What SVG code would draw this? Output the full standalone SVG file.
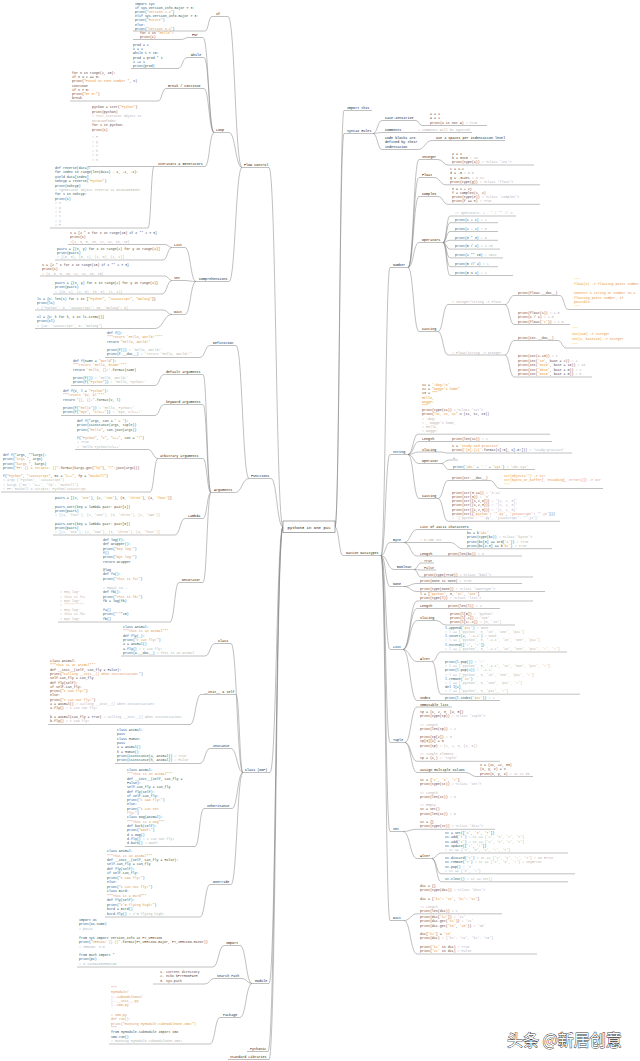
<svg xmlns="http://www.w3.org/2000/svg" width="640" height="1061" viewBox="0 0 640 1061" xml:space="preserve">
<style>
text{font-family:"Liberation Mono","DejaVu Sans Mono",monospace}
.k{font-size:3.3px;fill:#4a4a4a}
.c{fill:#b3b3b3}
.s{fill:#e3963e}
.r{fill:#c0392b}
.lb{font-size:3.4px;fill:#1a1a1a}
#connectors path{fill:none;stroke:#808080;stroke-width:0.5}
.wm{font-family:"Noto Sans CJK SC",sans-serif;font-size:16px;fill:#fff;stroke:#3a3a3a;stroke-width:0.9;paint-order:stroke}
</style>
<rect width="640" height="1061" fill="#fff"/>
<g id="connectors">
<path d="M242,167.5 H269 C276,167.5 276,527 283,527"/>
<path d="M249,478.5 H271 C277,478.5 277,527 283,527"/>
<path d="M243,772.5 H270 C276.5,772.5 276.5,527 283,527"/>
<path d="M252,983.5 H269 C276,983.5 276,527 283,527"/>
<path d="M247,1051.5 H268 C275.5,1051.5 275.5,527 283,527"/>
<path d="M228,1059.5 H269 C276,1059.5 276,527 283,527"/>
<path d="M212,16.5 H228 C235,16.5 235,167.5 242,167.5"/>
<path d="M133,31 H205 C208.5,31 208.5,16.5 212,16.5"/>
<path d="M214,132.5 H229 C235.5,132.5 235.5,167.5 242,167.5"/>
<path d="M189,37.5 H203 C208.5,37.5 208.5,132.5 214,132.5"/>
<path d="M133,39.5 H181 C185,39.5 185,37.5 189,37.5"/>
<path d="M187,57.5 H204 C209,57.5 209,132.5 214,132.5"/>
<path d="M131,68.5 H178 C182.5,68.5 182.5,57.5 187,57.5"/>
<path d="M166,88.5 H204 C209,88.5 209,132.5 214,132.5"/>
<path d="M70,101 H158 C162,101 162,88.5 166,88.5"/>
<path d="M88,166.5 H205 C209.5,166.5 209.5,132.5 214,132.5"/>
<path d="M50,228 H148 C151,228 151,166.5 154,166.5"/>
<path d="M196,281.5 H229 C235.5,281.5 235.5,167.5 242,167.5"/>
<path d="M172,247.5 H185 C190.5,247.5 190.5,281.5 196,281.5"/>
<path d="M68,244.5 H165 C168.5,244.5 168.5,247.5 172,247.5"/>
<path d="M55,260 H163 C167.5,260 167.5,247.5 172,247.5"/>
<path d="M172,280.5 H184 C190,280.5 190,281.5 196,281.5"/>
<path d="M40,276 H165 C168.5,276 168.5,280.5 172,280.5"/>
<path d="M53,294 H162 C167,294 167,280.5 172,280.5"/>
<path d="M172,314.5 H185 C190.5,314.5 190.5,281.5 196,281.5"/>
<path d="M35,310 H163 C167.5,310 167.5,314.5 172,314.5"/>
<path d="M35,328.5 H155 C163.5,328.5 163.5,314.5 172,314.5"/>
<path d="M210,345.5 H236 C242.5,345.5 242.5,478.5 249,478.5"/>
<path d="M105,357.5 H200 C205,357.5 205,345.5 210,345.5"/>
<path d="M211,492.5 H235 C242,492.5 242,478.5 249,478.5"/>
<path d="M164,374.5 H203 C207,374.5 207,492.5 211,492.5"/>
<path d="M71,385.5 H155 C159.5,385.5 159.5,374.5 164,374.5"/>
<path d="M164,404.5 H203 C207,404.5 207,492.5 211,492.5"/>
<path d="M61,415.5 H155 C159.5,415.5 159.5,404.5 164,404.5"/>
<path d="M158,458.5 H203 C207,458.5 207,492.5 211,492.5"/>
<path d="M75,449.5 H148 C153,449.5 153,458.5 158,458.5"/>
<path d="M1,492 H150 C154,492 154,458.5 158,458.5"/>
<path d="M185,518.5 H203 C207,518.5 207,492.5 211,492.5"/>
<path d="M53,535 H175 C180,535 180,518.5 185,518.5"/>
<path d="M179,582.5 H203 C207,582.5 207,492.5 211,492.5"/>
<path d="M58,622 H170 C174.5,622 174.5,582.5 179,582.5"/>
<path d="M215,643.5 H231 C237,643.5 237,772.5 243,772.5"/>
<path d="M121,656 H205 C210,656 210,643.5 215,643.5"/>
<path d="M201,694.5 H236 C239.5,694.5 239.5,772.5 243,772.5"/>
<path d="M48,724.5 H190 C195.5,724.5 195.5,694.5 201,694.5"/>
<path d="M210,748.5 H231 C237,748.5 237,772.5 243,772.5"/>
<path d="M115,763.5 H200 C205,763.5 205,748.5 210,748.5"/>
<path d="M204,808.5 H232 C237.5,808.5 237.5,772.5 243,772.5"/>
<path d="M125,846.5 H195 C199.5,846.5 199.5,808.5 204,808.5"/>
<path d="M210,884.5 H231 C237,884.5 237,772.5 243,772.5"/>
<path d="M105,917 H200 C205,917 205,884.5 210,884.5"/>
<path d="M224,945.5 H240 C246,945.5 246,983.5 252,983.5"/>
<path d="M77,967 H213 C218.5,967 218.5,945.5 224,945.5"/>
<path d="M214,978.5 H242 C247,978.5 247,983.5 252,983.5"/>
<path d="M153,984 H205 C209.5,984 209.5,978.5 214,978.5"/>
<path d="M220,1017.5 H240 C246,1017.5 246,983.5 252,983.5"/>
<path d="M109,1044 H210 C215,1044 215,1017.5 220,1017.5"/>
<path d="M335,527 C339.5,527 339.5,110.5 344,110.5 H372"/>
<path d="M335,527 C339.5,527 339.5,133.5 344,133.5 H373"/>
<path d="M373,133.5 C377.5,133.5 377.5,120.5 382,120.5 H416 C419,120.5 419,125.5 422,125.5 H487"/>
<path d="M373,133.5 C377.5,133.5 377.5,132.5 382,132.5 H472"/>
<path d="M373,133.5 C377.5,133.5 377.5,149.5 382,149.5 H418 C425,149.5 425,140.5 432,140.5 H505"/>
<path d="M335,527 C339,527 339,555.5 343,555.5 H381"/>
<path d="M381,555.5 C385.5,555.5 385.5,267.5 390,267.5 H408"/>
<path d="M408,267.5 C413.5,267.5 413.5,159.5 419,159.5 H438 C443,159.5 443,165 448,165 H534"/>
<path d="M408,267.5 C413.5,267.5 413.5,177.5 419,177.5 H434 C440,177.5 440,184.8 446,184.8 H540"/>
<path d="M408,267.5 C413.5,267.5 413.5,196.5 419,196.5 H438 C443,196.5 443,204.3 448,204.3 H540"/>
<path d="M408,267.5 C413.5,267.5 413.5,242.5 419,242.5 H443"/>
<path d="M443,242.5 C446.5,242.5 446.5,216 450,216 H516"/>
<path d="M443,242.5 C446.5,242.5 446.5,222.7 450,222.7 H498"/>
<path d="M443,242.5 C446.5,242.5 446.5,231.5 450,231.5 H498"/>
<path d="M443,242.5 C446.5,242.5 446.5,240.3 450,240.3 H498"/>
<path d="M443,242.5 C446.5,242.5 446.5,249.1 450,249.1 H500"/>
<path d="M443,242.5 C446.5,242.5 446.5,257.9 450,257.9 H503"/>
<path d="M443,242.5 C446.5,242.5 446.5,266.7 450,266.7 H498"/>
<path d="M443,242.5 C446.5,242.5 446.5,275.5 450,275.5 H513"/>
<path d="M408,267.5 C413.5,267.5 413.5,331.5 419,331.5 H438"/>
<path d="M438,331.5 C443,331.5 443,304.5 448,304.5 H505"/>
<path d="M505,304.5 C509.5,304.5 509.5,295.5 514,295.5 H560 C564,295.5 564,309.5 568,309.5 H640"/>
<path d="M505,304.5 C509.5,304.5 509.5,324.5 514,324.5 H570"/>
<path d="M438,331.5 C443,331.5 443,355 448,355 H505"/>
<path d="M505,355 C509.5,355 509.5,340.5 514,340.5 H558 C562,340.5 562,348 566,348 H640"/>
<path d="M505,355 C509.5,355 509.5,377 514,377 H592"/>
<path d="M381,555.5 C385.5,555.5 385.5,454.5 390,454.5 H408"/>
<path d="M408,454.5 C413,454.5 413,434.2 418,434.2 H550"/>
<path d="M408,454.5 C413.5,454.5 413.5,441.5 419,441.5 H552"/>
<path d="M408,454.5 C413.5,454.5 413.5,452 419,452 H440 C444,452 444,453 448,453 H572"/>
<path d="M408,454.5 C413.5,454.5 413.5,463.5 419,463.5 H441"/>
<path d="M441,463.5 C445,463.5 445,460 449,460 H458"/>
<path d="M441,463.5 C445,463.5 445,469.5 449,469.5 H535"/>
<path d="M408,454.5 C413.5,454.5 413.5,498.5 419,498.5 H438"/>
<path d="M438,498.5 C443,498.5 443,480.5 448,480.5 H490 C495,480.5 495,488.5 500,488.5 H603"/>
<path d="M438,498.5 C443,498.5 443,521.3 448,521.3 H560"/>
<path d="M381,555.5 C385.5,555.5 385.5,542.5 390,542.5 H404"/>
<path d="M404,542.5 C410.5,542.5 410.5,529.5 417,529.5 H472"/>
<path d="M404,542.5 H450 C456.5,542.5 456.5,548.7 463,548.7 H552"/>
<path d="M404,542.5 C410.5,542.5 410.5,556 417,556 H522"/>
<path d="M381,555.5 C387.5,555.5 387.5,569.5 394,569.5 H414"/>
<path d="M414,569.5 C417.5,569.5 417.5,563 421,563 H434"/>
<path d="M414,569.5 C417.5,569.5 417.5,570 421,570 H436"/>
<path d="M414,569.5 C417.5,569.5 417.5,577 421,577 H533"/>
<path d="M381,555.5 C385.5,555.5 385.5,586.5 390,586.5 H404"/>
<path d="M404,586.5 C410.5,586.5 410.5,583.5 417,583.5 H522"/>
<path d="M404,586.5 C410.5,586.5 410.5,591.5 417,591.5 H545"/>
<path d="M381,555.5 C385.5,555.5 385.5,649.5 390,649.5 H403"/>
<path d="M403,649.5 C410,649.5 410,601 417,601 H533"/>
<path d="M403,649.5 C410,649.5 410,608.5 417,608.5 H500"/>
<path d="M403,649.5 C410,649.5 410,620.5 417,620.5 H436 C441,620.5 441,625 446,625 H515"/>
<path d="M403,649.5 C410,649.5 410,661.5 417,661.5 H432"/>
<path d="M432,661.5 C436.5,661.5 436.5,652 441,652 H567"/>
<path d="M432,661.5 C436.5,661.5 436.5,694.2 441,694.2 H580"/>
<path d="M403,649.5 C410,649.5 410,700.5 417,700.5 H500"/>
<path d="M381,555.5 C385.5,555.5 385.5,742.5 390,742.5 H405"/>
<path d="M405,742.5 C411,742.5 411,707 417,707 H452"/>
<path d="M405,742.5 C411,742.5 411,761.3 417,761.3 H500"/>
<path d="M405,742.5 C411,742.5 411,772.5 417,772.5 H466 C471,772.5 471,776.5 476,776.5 H533"/>
<path d="M381,555.5 C385.5,555.5 385.5,831.5 390,831.5 H403"/>
<path d="M403,831.5 C410,831.5 410,829.3 417,829.3 H495"/>
<path d="M403,831.5 C410,831.5 410,858.5 417,858.5 H432"/>
<path d="M432,858.5 C436.5,858.5 436.5,853 441,853 H568"/>
<path d="M432,858.5 C436.5,858.5 436.5,873.8 441,873.8 H575"/>
<path d="M432,858.5 C436.5,858.5 436.5,881.8 441,881.8 H568"/>
<path d="M381,555.5 C385.5,555.5 385.5,920.5 390,920.5 H404"/>
<path d="M404,920.5 C410.5,920.5 410.5,913.8 417,913.8 H502"/>
<path d="M404,920.5 C410.5,920.5 410.5,954 417,954 H537"/>
</g>

<g id="n-root"><rect x="283" y="521" width="52" height="11.5" fill="#fff" stroke="#555" stroke-width="0.5"/><text x="309" y="528.5" text-anchor="middle" style="font-size:4px;fill:#111">python3 in one pic</text></g>

<g id="n-flow-control"><text class="lb" x="244" y="166">Flow Control</text></g>
<g id="n-if"><text class="lb" x="216" y="15">If</text><g class="k">
<text x="135" y="4.5">import sys</text>
<text x="135" y="8.7">if sys.version_info.major &lt; 3:</text>
<text x="135" y="12.9">    print(<tspan class="s">"Version 2.X"</tspan>)</text>
<text x="135" y="17.1">elif sys.version_info.major &gt; 3:</text>
<text x="135" y="21.3">    print(<tspan class="s">"Future"</tspan>)</text>
<text x="135" y="25.5">else:</text>
<text x="135" y="29.7">    print(<tspan class="s">"Version 3.X"</tspan>)</text>
</g></g>
<g id="n-loop"><text class="lb" x="216" y="131">Loop</text></g>
<g id="n-for"><text class="lb" x="192" y="36">For</text><g class="k">
<text x="140" y="33.5">for i in <tspan class="s">"Hello"</tspan>:</text>
<text x="140" y="37.7">    print(i)</text>
</g></g>
<g id="n-while"><text class="lb" x="191" y="56">While</text><g class="k">
<text x="133" y="46">prod = 1</text>
<text x="133" y="50.2">i = 1</text>
<text x="133" y="54.4">while i &lt; 10:</text>
<text x="133" y="58.6">    prod = prod * i</text>
<text x="133" y="62.8">    i += 1</text>
<text x="133" y="67">print(prod)</text>
</g></g>
<g id="n-break"><text class="lb" x="168" y="87">Break / continue</text><g class="k">
<text x="72" y="74">for n in range(2, 10):</text>
<text x="72" y="78.2">    if n % 2 == 0:</text>
<text x="72" y="82.4">        print(<tspan class="s">"Found an even number "</tspan>, n)</text>
<text x="72" y="86.6">        continue</text>
<text x="72" y="90.8">    if n &gt; 5:</text>
<text x="72" y="95">        print(<tspan class="s">"GT 5!"</tspan>)</text>
<text x="72" y="99.2">        break</text>
</g></g>
<g id="n-iterators"><text class="lb" x="158" y="165">Iterators &amp; Generators</text><g class="k">
<text x="92" y="108.3">python = iter(<tspan class="s">"Python"</tspan>)</text>
<text x="92" y="112.8">print(python)</text>
<text x="92" y="117.3" class="c"># &lt;str_iterator object at</text>
<text x="92" y="121.8" class="c">0x10293f8d0&gt;</text>
<text x="92" y="126.3">for i in python:</text>
<text x="92" y="130.8">    print(i)</text>
<text x="92" y="138" class="c"># P</text>
<text x="92" y="142.6" class="c"># y</text>
<text x="92" y="147.2" class="c"># t</text>
<text x="92" y="151.8" class="c"># h</text>
<text x="92" y="156.4" class="c"># o</text>
<text x="92" y="161" class="c"># n</text>
<text x="55" y="169">def reverse(data):</text>
<text x="55" y="173.4">    for index in range(len(data) - 1, -1, -1):</text>
<text x="55" y="177.8">        yield data[index]</text>
<text x="55" y="182.2">nohtyp = reverse(<tspan class="s">"Python"</tspan>)</text>
<text x="55" y="186.6">print(nohtyp)</text>
<text x="55" y="191" class="c"># &lt;generator object reverse at 0x1029539e8&gt;</text>
<text x="55" y="195.4">for i in nohtyp:</text>
<text x="55" y="199.8">    print(i)</text>
<text x="55" y="204.2" class="c"># n</text>
<text x="55" y="208.6" class="c"># o</text>
<text x="55" y="213" class="c"># h</text>
<text x="55" y="217.4" class="c"># t</text>
<text x="55" y="221.8" class="c"># y</text>
<text x="55" y="226.2" class="c"># P</text>
</g></g>
<g id="n-comprehensions"><text class="lb" x="199" y="280">Comprehensions</text></g>
<g id="n-comp-list"><text class="lb" x="174" y="246">List</text><g class="k">
<text x="70" y="234">s = [2 * x for x in range(10) if x ** 2 &gt; 3]</text>
<text x="70" y="238.3">print(s)</text>
<text x="70" y="242.6" class="c">#[4, 6, 8, 10, 12, 14, 16, 18]</text>
<text x="57" y="249.5">pairs = [(x, y) for x in range(2) for y in range(2)]</text>
<text x="57" y="253.8">print(pairs)</text>
<text x="57" y="258.1" class="c"># [(0, 0), (0, 1), (1, 0), (1, 1)]</text>
</g></g>
<g id="n-comp-set"><text class="lb" x="174" y="279">Set</text><g class="k">
<text x="42" y="266">s = {2 * x for x in range(10) if x ** 2 &gt; 3}</text>
<text x="42" y="270.3">print(s)</text>
<text x="42" y="274.6" class="c"># {4, 6, 8, 10, 12, 14, 16, 18}</text>
<text x="55" y="284">pairs = {(x, y) for x in range(2) for y in range(2)}</text>
<text x="55" y="288.3">print(pairs)</text>
<text x="55" y="292.6" class="c"># {(0, 1), (1, 0), (0, 0), (1, 1)}</text>
</g></g>
<g id="n-comp-dict"><text class="lb" x="174" y="313">Dict</text><g class="k">
<text x="37" y="300">ls = {s: len(s) for s in [<tspan class="s">"Python"</tspan>, <tspan class="s">"Javascript"</tspan>, <tspan class="s">"Golang"</tspan>]}</text>
<text x="37" y="304.3">print(ls)</text>
<text x="37" y="308.6" class="c"># {'Python': 6, 'Javascript': 10, 'Golang': 6}</text>
<text x="37" y="318">sl = {v: k for k, v in ls.items()}</text>
<text x="37" y="322.3">print(sl)</text>
<text x="37" y="326.6" class="c"># {10: 'Javascript', 6: 'Golang'}</text>
</g></g>

<g id="n-functions"><text class="lb" x="251" y="477">Functions</text></g>
<g id="n-definition"><text class="lb" x="213" y="344">Definition</text><g class="k">
<text x="107" y="334">def f():</text>
<text x="107" y="338.3" class="s">    """return 'Hello, World!'"""</text>
<text x="107" y="342.6">    return <tspan class="s">"Hello, World!"</tspan></text>
<text x="107" y="351">print(f())          <tspan class="c"># 'Hello, World!'</tspan></text>
<text x="107" y="355.3">print(f.__doc__)    <tspan class="c"># 'return 'Hello, World!''</tspan></text>
</g></g>
<g id="n-arguments"><text class="lb" x="214" y="491">Arguments</text></g>
<g id="n-default-args"><text class="lb" x="166" y="373">default arguments</text><g class="k">
<text x="73" y="362">def f(name = <tspan class="s">"World"</tspan>):</text>
<text x="73" y="366.3" class="s">    """return 'Hello, $name'"""</text>
<text x="73" y="370.6">    return <tspan class="s">'Hello, {}!'</tspan>.format(name)</text>
<text x="73" y="379">print(f())          <tspan class="c"># 'Hello, World!'</tspan></text>
<text x="73" y="383.3">print(f(<tspan class="s">"Python"</tspan>))  <tspan class="c"># 'Hello, Python!'</tspan></text>
</g></g>
<g id="n-keyword-args"><text class="lb" x="166" y="403">keyword arguments</text><g class="k">
<text x="63" y="392">def f(v, l = <tspan class="s">"Python"</tspan>):</text>
<text x="63" y="396.3" class="s">    """return '$v, $l'"""</text>
<text x="63" y="400.6">    return <tspan class="s">"{}, {}!"</tspan>.format(v, l)</text>
<text x="63" y="409">print(f(<tspan class="s">"Hello"</tspan>))         <tspan class="c"># 'Hello, Python!'</tspan></text>
<text x="63" y="413.3">print(f(<tspan class="s">"Bye"</tspan>, <tspan class="s">"C/C++"</tspan>))  <tspan class="c"># 'Bye, C/C++!'</tspan></text>
</g></g>
<g id="n-arbitrary-args"><text class="lb" x="160" y="457">arbitrary arguments</text><g class="k">
<text x="77" y="422">def f(*args, con = <tspan class="s">" &amp; "</tspan>):</text>
<text x="77" y="426.3">    print(isinstance(args, tuple))</text>
<text x="77" y="430.6">    print(<tspan class="s">"Hello"</tspan>, con.join(args))</text>
<text x="77" y="439">f(<tspan class="s">"Python"</tspan>, <tspan class="s">"C"</tspan>, <tspan class="s">"C++"</tspan>, con = <tspan class="s">"/"</tspan>)</text>
<text x="77" y="443.3" class="c"># True</text>
<text x="77" y="447.6" class="c"># 'Hello Python/C/C++'</text>
<text x="3" y="456">def f(*args, **kargs):</text>
<text x="3" y="460.3">    print(<tspan class="s">"args "</tspan>, args)</text>
<text x="3" y="464.6">    print(<tspan class="s">"kargs "</tspan>, kargs)</text>
<text x="3" y="468.9">    print(<tspan class="s">"FP: {} &amp; Scripts: {}"</tspan>.format(kargs.get(<tspan class="s">"fp"</tspan>), <tspan class="s">"/"</tspan>.join(args)))</text>
<text x="3" y="477">f(<tspan class="s">"Python"</tspan>, <tspan class="s">"Javascript"</tspan>, ms = <tspan class="s">"C++"</tspan>, fp = <tspan class="s">"Haskell"</tspan>)</text>
<text x="3" y="481.3" class="c"># args  ('Python', 'Javascript')</text>
<text x="3" y="485.6" class="c"># kargs  {'ms': 'C++', 'fp': 'Haskell'}</text>
<text x="3" y="489.9" class="c"># FP: Haskell &amp; Scripts: Python/Javascript</text>
</g></g>
<g id="n-lambda"><text class="lb" x="188" y="517">Lambda</text><g class="k">
<text x="55" y="499">pairs = [(1, <tspan class="s">'one'</tspan>), (2, <tspan class="s">'two'</tspan>), (3, <tspan class="s">'three'</tspan>), (4, <tspan class="s">'four'</tspan>)]</text>
<text x="55" y="507.5">pairs.sort(key = lambda pair: pair[1])</text>
<text x="55" y="511.8">print(pairs)</text>
<text x="55" y="516.1" class="c"># [(4, 'four'), (1, 'one'), (3, 'three'), (2, 'two')]</text>
<text x="55" y="524.5">pairs.sort(key = lambda pair: pair[0])</text>
<text x="55" y="528.8">print(pairs)</text>
<text x="55" y="533.1" class="c"># [(1, 'one'), (2, 'two'), (3, 'three'), (4, 'four')]</text>
</g></g>
<g id="n-decorator"><text class="lb" x="182" y="581">Decorator</text><g class="k">
<text x="103" y="541">def log(f):</text>
<text x="103" y="545.3">    def wrapper():</text>
<text x="103" y="549.6">        print(<tspan class="s">"Hey log~"</tspan>)</text>
<text x="103" y="553.9">        f()</text>
<text x="103" y="558.2">        print(<tspan class="s">"Bye log~"</tspan>)</text>
<text x="103" y="562.5">    return wrapper</text>
<text x="103" y="571">@log</text>
<text x="103" y="575.3">def fa():</text>
<text x="103" y="579.6">    print(<tspan class="s">"This is fa!"</tspan>)</text>
<text x="103" y="589" class="c"># Equal to...</text>
<text x="103" y="593.3">def fb():</text>
<text x="103" y="597.6">    print(<tspan class="s">"This is fb!"</tspan>)</text>
<text x="103" y="601.9">fb = log(fb)</text>
<text x="103" y="611">fa()</text>
<text x="103" y="615.3">print(<tspan class="s">"*"</tspan>*10)</text>
<text x="103" y="619.6">fb()</text>
<text x="60" y="593.3" class="c"># Hey log~</text>
<text x="60" y="597.6" class="c"># This is fa!</text>
<text x="60" y="601.9" class="c"># Bye log~</text>
<text x="60" y="606.2" class="c"># **********</text>
<text x="60" y="611" class="c"># Hey log~</text>
<text x="60" y="615.3" class="c"># This is fb!</text>
<text x="60" y="619.6" class="c"># Bye log~</text>
</g></g>

<g id="n-class-oop"><text class="lb" x="245" y="771">Class (OOP)</text></g>
<g id="n-class"><text class="lb" x="218" y="642">Class</text><g class="k">
<text x="123" y="628">class Animal:</text>
<text x="123" y="632.3" class="s">    """This is an Animal"""</text>
<text x="123" y="636.6">    def fly(_):</text>
<text x="123" y="640.9">        print(<tspan class="s">"I can fly!"</tspan>)</text>
<text x="123" y="645.2">a = Animal()</text>
<text x="123" y="649.5">a.fly()           <tspan class="c"># I can fly!</tspan></text>
<text x="123" y="653.8">print(a.__doc__)  <tspan class="c"># This is an Animal</tspan></text>
</g></g>
<g id="n-init-self"><text class="lb" x="204" y="693">__init__ &amp; self</text><g class="k">
<text x="50" y="662">class Animal:</text>
<text x="50" y="666.3" class="s">    """This is an Animal"""</text>
<text x="50" y="670.6">    def __init__(self, can_fly = False):</text>
<text x="50" y="674.9">        print(<tspan class="s">"Calling __init__() when instantiation!"</tspan>)</text>
<text x="50" y="679.2">        self.can_fly = can_fly</text>
<text x="50" y="683.5">    def fly(self):</text>
<text x="50" y="687.8">        if self.can_fly:</text>
<text x="50" y="692.1">            print(<tspan class="s">"I CAN fly!"</tspan>)</text>
<text x="50" y="696.4">        else:</text>
<text x="50" y="700.7">            print(<tspan class="s">"I can not fly!"</tspan>)</text>
<text x="50" y="705">a = Animal()                <tspan class="c"># Calling __init__() when instantiation!</tspan></text>
<text x="50" y="709.3">a.fly()                     <tspan class="c"># I can not fly!</tspan></text>
<text x="50" y="718">b = Animal(can_fly = True)  <tspan class="c"># Calling __init__() when instantiation!</tspan></text>
<text x="50" y="722.3">b.fly()                     <tspan class="c"># I CAN fly!</tspan></text>
</g></g>
<g id="n-instance"><text class="lb" x="213" y="747">Instance</text><g class="k">
<text x="117" y="731">class Animal:</text>
<text x="117" y="735.3">    pass</text>
<text x="117" y="739.6">class Human:</text>
<text x="117" y="743.9">    pass</text>
<text x="117" y="748.2">a = Animal()</text>
<text x="117" y="752.5">h = Human()</text>
<text x="117" y="756.8">print(isinstance(a, Animal))  <tspan class="c"># True</tspan></text>
<text x="117" y="761.1">print(isinstance(h, Animal))  <tspan class="c"># False</tspan></text>
</g></g>
<g id="n-inheritance"><text class="lb" x="207" y="807">Inheritance</text><g class="k">
<text x="127" y="771">class Animal:</text>
<text x="127" y="775.3" class="s">    """This is an Animal"""</text>
<text x="127" y="779.6">    def __init__(self, can_fly =</text>
<text x="127" y="783.9">False):</text>
<text x="127" y="788.2">        self.can_fly = can_fly</text>
<text x="127" y="792.5">    def fly(self):</text>
<text x="127" y="796.8">        if self.can_fly:</text>
<text x="127" y="801.1">            print(<tspan class="s">"I CAN fly!"</tspan>)</text>
<text x="127" y="805.4">        else:</text>
<text x="127" y="809.7">            print(<tspan class="s">"I can not</tspan></text>
<text x="127" y="814"><tspan class="s">fly!"</tspan>)</text>
<text x="127" y="818.3">class Dog(Animal):</text>
<text x="127" y="822.6" class="s">    """This is a Dog"""</text>
<text x="127" y="826.9">    def bark(self):</text>
<text x="127" y="831.2">        print(<tspan class="s">"Woof!"</tspan>)</text>
<text x="127" y="835.5">d = Dog()</text>
<text x="127" y="839.8">d.fly()    <tspan class="c"># I can not fly!</tspan></text>
<text x="127" y="844.1">d.bark()   <tspan class="c"># Woof!</tspan></text>
</g></g>
<g id="n-override"><text class="lb" x="213" y="883">Override</text><g class="k">
<text x="107" y="852">class Animal:</text>
<text x="107" y="856.5" class="s">    """This is an Animal"""</text>
<text x="107" y="861">    def __init__(self, can_fly = False):</text>
<text x="107" y="865.4">        self.can_fly = can_fly</text>
<text x="107" y="869.9">    def fly(self):</text>
<text x="107" y="874.4">        if self.can_fly:</text>
<text x="107" y="878.8">            print(<tspan class="s">"I CAN fly!"</tspan>)</text>
<text x="107" y="883.3">        else:</text>
<text x="107" y="887.8">            print(<tspan class="s">"I can not fly!"</tspan>)</text>
<text x="107" y="892.2">class Bird:</text>
<text x="107" y="896.7" class="s">    """This is a Bird"""</text>
<text x="107" y="901.2">    def fly(self):</text>
<text x="107" y="905.6">        print(<tspan class="s">"I'm flying high!"</tspan>)</text>
<text x="107" y="910.1">bird = Bird()</text>
<text x="107" y="914.6">bird.fly()    <tspan class="c"># I'm flying high!</tspan></text>
</g></g>

<g id="n-module"><text class="lb" x="255" y="982">Module</text></g>
<g id="n-import"><text class="lb" x="226" y="944">Import</text><g class="k">
<text x="79" y="921">import os</text>
<text x="79" y="925.3">print(os.name)</text>
<text x="79" y="929.6" class="c"># posix</text>
<text x="79" y="939">from sys import version_info as PY_VERSION</text>
<text x="79" y="943.3">print(<tspan class="s">"VERSON: {}.{}"</tspan>.format(PY_VERSION.major, PY_VERSION.minor))</text>
<text x="79" y="947.6" class="c"># VERSON: 3.5</text>
<text x="79" y="956">from math import *</text>
<text x="79" y="960.3">print(pi)</text>
<text x="79" y="964.6" class="c"># 3.141592653589793</text>
</g></g>
<g id="n-search-path"><text class="lb" x="217" y="977">Search Path</text><g class="k">
<text x="160" y="973">1. current directory</text>
<text x="160" y="977.3">2. echo $PYTHONPATH</text>
<text x="160" y="981.6">3. sys.path</text>
</g></g>
<g id="n-package"><text class="lb" x="223" y="1016">Package</text><g class="k">
<text x="111" y="989" class="s">"""</text>
<text x="111" y="993.3" class="s">MyModule/</text>
<text x="111" y="997.6" class="s">|--SubModuleOne/</text>
<text x="111" y="1001.9" class="s">    |--__init__.py</text>
<text x="111" y="1006.2" class="s">    |--smo.py</text>
<text x="111" y="1016" class="s"># smo.py</text>
<text x="111" y="1020.3" class="s">def run():</text>
<text x="111" y="1024.6" class="s">    print("Running MyModule.SubModuleOne.smo!")</text>
<text x="111" y="1028.9" class="s">"""</text>
<text x="111" y="1033.2">from MyModule.SubModule import smo</text>
<text x="111" y="1037.5">smo.run()</text>
<text x="111" y="1041.8" class="c"># Running MyModule.SubModuleOne.smo!</text>
</g></g>
<g id="n-pythonic"><text class="lb" x="250" y="1050">Pythonic</text></g>
<g id="n-stdlib"><text class="lb" x="230" y="1058">Standard Libraries</text></g>

<g id="n-import-this"><text class="lb r" x="347" y="109">Import this</text></g>
<g id="n-syntax-rules"><text class="lb" x="347" y="132">Syntax Rules</text></g>
<g id="n-case-sensitive"><text class="lb" x="385" y="119">Case-sensitive</text><g class="k">
<text x="430" y="115">a = 1</text>
<text x="430" y="119.3">A = 2</text>
<text x="430" y="123.6">print(a is not A)  <tspan class="c"># True</tspan></text>
</g></g>
<g id="n-comments"><text class="lb" x="385" y="131">Comments</text><text class="k c" x="418" y="131"># comments will be ignored</text></g>
<g id="n-code-blocks"><g class="lb r"><text x="385" y="139">Code blocks are</text><text x="385" y="143.3">defined by their</text><text x="385" y="147.6">indentation</text></g><text class="lb" x="436" y="139">Use 4 spaces per indentation level</text></g>

<g id="n-native-datatypes"><text class="lb" x="346" y="554">Native Datatypes</text></g>
<g id="n-number"><text class="lb" x="393" y="266">Number</text></g>
<g id="n-integer"><text class="lb" x="422" y="158">Integer</text><g class="k">
<text x="452" y="154.5">a = 1</text>
<text x="452" y="158.8">b = 0x10             <tspan class="c"># 16</tspan></text>
<text x="452" y="163.1">print(type(a))       <tspan class="c"># &lt;class 'int'&gt;</tspan></text>
</g></g>
<g id="n-float"><text class="lb" x="422" y="176">Float</text><g class="k">
<text x="450" y="170">c = 1.2</text>
<text x="450" y="174.3">d = .5               <tspan class="c"># 0.5</tspan></text>
<text x="450" y="178.6">g = .314e1           <tspan class="c"># 3.14</tspan></text>
<text x="450" y="182.9">print(type(g))       <tspan class="c"># &lt;class 'float'&gt;</tspan></text>
</g></g>
<g id="n-complex"><text class="lb" x="422" y="195">Complex</text><g class="k">
<text x="452" y="189.5">e = 1 + 2j</text>
<text x="452" y="193.8">f = complex(1, 2)</text>
<text x="452" y="198.1">print(type(e))       <tspan class="c"># &lt;class 'complex'&gt;</tspan></text>
<text x="452" y="202.4">print(f == e)        <tspan class="c"># True</tspan></text>
</g></g>
<g id="n-operators"><text class="lb" x="422" y="241">Operators</text><g class="k">
<text x="455" y="214.3" class="c">## Operators: + - * / ** // %</text>
<text x="455" y="221">print(1 + 1)    <tspan class="c"># 2</tspan></text>
<text x="455" y="229.8">print(2 - 2)    <tspan class="c"># 0</tspan></text>
<text x="455" y="238.6">print(3 * 3)    <tspan class="c"># 9</tspan></text>
<text x="455" y="247.4">print(5 / 4)    <tspan class="c"># 1.25</tspan></text>
<text x="455" y="256.2">print(2 ** 10)  <tspan class="c"># 1024</tspan></text>
<text x="455" y="265">print(5 // 4)   <tspan class="c"># 1</tspan></text>
<text x="455" y="273.8">print(5 % 4)    <tspan class="c"># 1</tspan></text>
</g></g>
<g id="n-number-casting"><text class="lb" x="422" y="330">Casting</text><g class="k">
<text x="452" y="303" class="c"># Integer/String -&gt; Float</text>
<text x="518" y="294">print(float.__doc__)</text>
<text x="574" y="280.5" class="s">'''</text>
<text x="574" y="285" class="s">float(x) -&gt; floating point number</text>
<text x="574" y="294" class="s">Convert a string or number to a</text>
<text x="574" y="298.5" class="s">floating point number, if</text>
<text x="574" y="303" class="s">possible.</text>
<text x="574" y="307.5" class="s">'''</text>
<text x="518" y="314">print(float(1))      <tspan class="c"># 1.0</tspan></text>
<text x="518" y="318.3">print(1 / 1)         <tspan class="c"># 1.0</tspan></text>
<text x="518" y="322.6">print(float(<tspan class="s">'1'</tspan>))    <tspan class="c"># 1.0</tspan></text>
<text x="452" y="353.5" class="c"># Float/String -&gt; Integer</text>
<text x="518" y="339">print(int.__doc__)</text>
<text x="572" y="330" class="s">'''</text>
<text x="572" y="335" class="s">int(x=0) -&gt; integer</text>
<text x="572" y="340" class="s">int(x, base=10) -&gt; integer</text>
<text x="572" y="346" class="s">'''</text>
<text x="518" y="357">print(int(1.23))              <tspan class="c"># 1</tspan></text>
<text x="518" y="361.5">print(int(<tspan class="s">'10'</tspan>, base = 2))    <tspan class="c"># 2</tspan></text>
<text x="518" y="366">print(int(<tspan class="s">'0x10'</tspan>, base = 16)) <tspan class="c"># 16</tspan></text>
<text x="518" y="370.5">print(int(<tspan class="s">'0b10'</tspan>, base = 0))  <tspan class="c"># 2</tspan></text>
<text x="518" y="375">print(int(<tspan class="s">'0o10'</tspan>, base = 0))  <tspan class="c"># 8</tspan></text>
</g></g>

<g id="n-string"><text class="lb" x="393" y="453">String</text><g class="k">
<text x="422" y="386">s1 = <tspan class="s">':dog:\n'</tspan></text>
<text x="422" y="390.2">s2 = <tspan class="s">"Dogge's home"</tspan></text>
<text x="422" y="394.4">s3 = <tspan class="s">"""</tspan></text>
<text x="422" y="398.6" class="s">Hello,</text>
<text x="422" y="402.8" class="s">Dogge!</text>
<text x="422" y="407" class="s">"""</text>
<text x="422" y="411.2">print(type(s1))               <tspan class="c"># &lt;class 'str'&gt;</tspan></text>
<text x="422" y="415.4">print(<tspan class="s">"%s, %s, %s"</tspan> % (s1, s2, s3))</text>
<text x="422" y="419.6" class="c"># :dog:</text>
<text x="422" y="423.8" class="c"># , Dogge's home,</text>
<text x="422" y="428" class="c"># Hello,</text>
<text x="422" y="432.2" class="c"># Dogge!</text>
</g></g>
<g id="n-str-length"><text class="lb" x="422" y="440">Length</text><text class="k" x="452" y="440">print(len(s1))       <tspan class="c"># 2</tspan></text></g>
<g id="n-str-slicing"><text class="lb" x="422" y="450.5">Slicing</text><g class="k">
<text x="452" y="446.5">s = <tspan class="s">'study and practice'</tspan></text>
<text x="452" y="451">print(<tspan class="s">'{0}:{1}'</tspan>.format(s[:5], s[-8:]))   <tspan class="c"># 'study:practice'</tspan></text>
</g></g>
<g id="n-str-operator"><text class="lb" x="422" y="462">Operator</text><g class="k">
<text x="453" y="458.5">+</text>
<text x="453" y="467.5">print(<tspan class="s">'abc'</tspan> + <tspan class="s">'.'</tspan> + <tspan class="s">'xyz'</tspan>)  <tspan class="c"># 'abc.xyz'</tspan></text>
</g></g>
<g id="n-str-casting"><text class="lb" x="422" y="497">Casting</text><g class="k">
<text x="452" y="479">print(str.__doc__)</text>
<text x="504" y="472" class="s">'''</text>
<text x="504" y="476.5" class="s">str(object='') -&gt; str</text>
<text x="504" y="481" class="s">str(bytes_or_buffer[, encoding[, errors]]) -&gt; str</text>
<text x="504" y="485.5" class="s">'''</text>
<text x="452" y="493.5">print(str(3.14))        <tspan class="c"># '3.14'</tspan></text>
<text x="452" y="497.8">print(str(3))           <tspan class="c"># '3'</tspan></text>
<text x="452" y="502.1">print(str([1,2,3]))     <tspan class="c"># '[1, 2, 3]'</tspan></text>
<text x="452" y="506.4">print(str((1,2,3)))     <tspan class="c"># '(1, 2, 3)'</tspan></text>
<text x="452" y="510.7">print(str({1,2,3}))     <tspan class="c"># '{1, 2, 3}'</tspan></text>
<text x="452" y="515">print(str({<tspan class="s">'python'</tspan>: <tspan class="s">'*.py'</tspan>, <tspan class="s">'javascript'</tspan>: <tspan class="s">'*.js'</tspan>}))</text>
<text x="452" y="519.3" class="c"># '{'python': '*.py', 'javascript': '*.js'}'</text>
</g></g>

<g id="n-byte"><text class="lb" x="393" y="541">Byte</text><g class="k">
<text class="lb" x="420" y="528">List of ascii characters</text>
<text x="420" y="541" class="c"># 0-255 int</text>
<text x="467" y="534">bs = b<tspan class="s">'abc'</tspan></text>
<text x="467" y="538.3">print(type(bs))           <tspan class="c"># &lt;class 'bytes'&gt;</tspan></text>
<text x="467" y="542.6">print(bs[0] == ord(<tspan class="s">'a'</tspan>))  <tspan class="c"># True</tspan></text>
<text x="467" y="546.9">print(bs[1:3] == b<tspan class="s">'bc'</tspan>)   <tspan class="c"># True</tspan></text>
</g></g>
<g id="n-byte-length"><text class="lb" x="420" y="554.5">Length</text><text class="k" x="448" y="554.5">print(len(bs))      <tspan class="c"># 3</tspan></text></g>
<g id="n-boolean"><text class="lb" x="397" y="568">Boolean</text><g class="k">
<text x="424" y="561.5">True</text>
<text x="424" y="568.5">False</text>
<text x="424" y="575.5">print(type(True))                   <tspan class="c"># &lt;class 'bool'&gt;</tspan></text>
</g></g>
<g id="n-none"><text class="lb" x="393" y="585">None</text><g class="k">
<text x="420" y="582">print(None is None)                 <tspan class="c"># True</tspan></text>
<text x="420" y="590">print(type(None))                   <tspan class="c"># &lt;class 'NoneType'&gt;</tspan></text>
</g></g>

<g id="n-list"><text class="lb" x="393" y="648">List</text><g class="k">
<text x="420" y="595">l = [<tspan class="s">'python'</tspan>, 3, <tspan class="s">'in'</tspan>, <tspan class="s">'one'</tspan>]</text>
<text x="420" y="599.3">print(type(l))                  <tspan class="c"># &lt;class 'list'&gt;</tspan></text>
</g></g>
<g id="n-list-length"><text class="lb" x="420" y="607">Length</text><text class="k" x="448" y="607">print(len(l))      <tspan class="c"># 4</tspan></text></g>
<g id="n-list-slicing"><text class="lb" x="420" y="619">Slicing</text><g class="k">
<text x="450" y="614.5">print(l[0])        <tspan class="c"># 'python'</tspan></text>
<text x="450" y="618.8">print(l[-1])       <tspan class="c"># 'one'</tspan></text>
<text x="450" y="623.1">print(l[1:-1])     <tspan class="c"># [3, 'in']</tspan></text>
</g></g>
<g id="n-list-alter"><text class="lb" x="420" y="660">Alter</text><g class="k">
<text x="445" y="628.5">l.append(<tspan class="s">'pic'</tspan>)      <tspan class="c"># None</tspan></text>
<text x="445" y="632.8" class="c"># l == ['python', 3, 'in', 'one', 'pic']</text>
<text x="445" y="637.1">l.insert(2, <tspan class="s">'.4.1'</tspan>)  <tspan class="c"># None</tspan></text>
<text x="445" y="641.4" class="c"># l == ['python', 3, '.4.1', 'in', 'one', 'pic']</text>
<text x="445" y="645.7">l.extend([<tspan class="s">'!'</tspan>, <tspan class="s">'!'</tspan>])</text>
<text x="445" y="650" class="c"># l == ['python', 3, '.4.1', 'in', 'one', 'pic', '!', '!']</text>
<text x="445" y="663">print(l.pop())     <tspan class="c"># '!'</tspan></text>
<text x="445" y="667.2" class="c"># l == ['python', 3, '.4.1', 'in', 'one', 'pic', '!']</text>
<text x="445" y="671.4">print(l.pop(2))    <tspan class="c"># '.4.1'</tspan></text>
<text x="445" y="675.6" class="c"># l == ['python', 3, 'in', 'one', 'pic', '!']</text>
<text x="445" y="679.8">l.remove(<tspan class="s">'in'</tspan>)</text>
<text x="445" y="684" class="c"># l == ['python', 3, 'one', 'pic', '!']</text>
<text x="445" y="688.2">del l[2]</text>
<text x="445" y="692.4" class="c"># l == ['python', 3, 'pic', '!']</text>
</g></g>
<g id="n-list-index"><text class="lb" x="420" y="699">Index</text><text class="k" x="445" y="699">print(l.index(<tspan class="s">'pic'</tspan>))  <tspan class="c"># 2</tspan></text></g>

<g id="n-tuple"><text class="lb" x="393" y="741">Tuple</text><g class="k">
<text class="lb r" x="420" y="705.5">Immutable list</text>
<text x="420" y="713">tp = (1, 2, 3, [4, 5])</text>
<text x="420" y="717.3">print(type(tp))  <tspan class="c"># &lt;class 'tuple'&gt;</tspan></text>
<text x="420" y="725.5" class="c">## Length</text>
<text x="420" y="729.8">print(len(tp))   <tspan class="c"># 4</tspan></text>
<text x="420" y="738">print(tp[2])     <tspan class="c"># 3</tspan></text>
<text x="420" y="742.3">tp[3][1] = 6</text>
<text x="420" y="746.6">print(tp)        <tspan class="c"># (1, 2, 3, [4, 6])</tspan></text>
<text x="420" y="755" class="c">## Single element</text>
<text x="420" y="759.3">tp = (1,)        <tspan class="c"># 'tuple'</tspan></text>
</g></g>
<g id="n-assign-multiple"><text class="lb" x="420" y="771">assign multiple values</text><g class="k">
<text x="480" y="766">v = (11, 22, 33)</text>
<text x="480" y="770.3">(x, y, z) = v</text>
<text x="480" y="774.6">print(x, y, z)  <tspan class="c"># 11 22 33</tspan></text>
</g></g>

<g id="n-set"><text class="lb" x="393" y="830">Set</text><g class="k">
<text x="420" y="781">st = {<tspan class="s">'s'</tspan>, <tspan class="s">'e'</tspan>, <tspan class="s">'T'</tspan>}</text>
<text x="420" y="785.3">print(type(st))  <tspan class="c"># &lt;class 'set'&gt;</tspan></text>
<text x="420" y="793.5" class="c">## Length</text>
<text x="420" y="797.8">print(len(st))   <tspan class="c"># 3</tspan></text>
<text x="420" y="806" class="c">## Empty</text>
<text x="420" y="810.3">st = set()</text>
<text x="420" y="814.6">print(len(st))   <tspan class="c"># 0</tspan></text>
<text x="420" y="823">st = {}</text>
<text x="420" y="827.3">print(type(st))  <tspan class="c"># &lt;class 'dict'&gt;</tspan></text>
</g></g>
<g id="n-set-alter"><text class="lb" x="420" y="857">Alter</text><g class="k">
<text x="445" y="834">st = set([<tspan class="s">'s'</tspan>, <tspan class="s">'e'</tspan>, <tspan class="s">'T'</tspan>])</text>
<text x="445" y="838.3">st.add(<tspan class="s">'t'</tspan>)      <tspan class="c"># st == {'s', 'e', 't', 'T'}</tspan></text>
<text x="445" y="842.6">st.add(<tspan class="s">'t'</tspan>)      <tspan class="c"># st == {'s', 'e', 't', 'T'}</tspan></text>
<text x="445" y="846.9">st.update([<tspan class="s">'!'</tspan>, <tspan class="s">'!'</tspan>])</text>
<text x="445" y="851.2" class="c"># st == {'s', 'e', 't', '!', 'T'}</text>
<text x="445" y="859">st.discard(<tspan class="s">'t'</tspan>)  <tspan class="c"># st == {'s', 'e', '!', 'T'}  # No Error</tspan></text>
<text x="445" y="863.3">st.remove(<tspan class="s">'T'</tspan>)   <tspan class="c"># st == {'s', 'e', '!'}       # KeyError</tspan></text>
<text x="445" y="867.6">st.pop()         <tspan class="c"># 's'</tspan></text>
<text x="445" y="871.9" class="c"># st == {'e', '!'}</text>
<text x="445" y="880">st.clear()       <tspan class="c"># st == set()</tspan></text>
</g></g>

<g id="n-dict"><text class="lb" x="393" y="919">Dict</text><g class="k">
<text x="420" y="887">dic = {}</text>
<text x="420" y="891.3">print(type(dic))  <tspan class="c"># &lt;class 'dict'&gt;</tspan></text>
<text x="420" y="899.5">dic = {<tspan class="s">'k1'</tspan>: <tspan class="s">'v1'</tspan>, <tspan class="s">'k2'</tspan>: <tspan class="s">'v2'</tspan>}</text>
<text x="420" y="907.5" class="c">## Length</text>
<text x="420" y="911.8">print(len(dic))   <tspan class="c"># 2</tspan></text>
<text x="420" y="918">print(dic[<tspan class="s">'k2'</tspan>])            <tspan class="c"># 'v2'</tspan></text>
<text x="420" y="922.3">print(dic.get(<tspan class="s">'k1'</tspan>))        <tspan class="c"># 'v1'</tspan></text>
<text x="420" y="926.6">print(dic.get(<tspan class="s">'k3'</tspan>, <tspan class="s">'v0'</tspan>))  <tspan class="c"># 'v0'</tspan></text>
<text x="420" y="935">dic[<tspan class="s">'k2'</tspan>] = <tspan class="s">'v3'</tspan></text>
<text x="420" y="939.3">print(dic)                  <tspan class="c"># {'k1': 'v1', 'k2': 'v3'}</tspan></text>
<text x="420" y="947.7">print(<tspan class="s">'k2'</tspan> in dic)          <tspan class="c"># True</tspan></text>
<text x="420" y="952">print(<tspan class="s">'v1'</tspan> in dic)          <tspan class="c"># False</tspan></text>
</g></g>

<text class="wm" x="507" y="1046">头条 @新居创意</text>
</svg>
